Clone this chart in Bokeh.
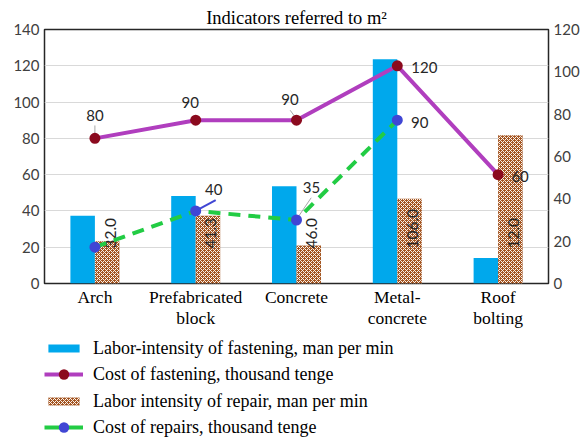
from bokeh.plotting import figure
from bokeh.layouts import column
from bokeh.models import (FactorRange, Range1d, LinearAxis, FixedTicker, Legend,
                          LegendItem, ColumnDataSource)
from bokeh.transform import dodge
from bokeh.core.properties import value
from bokeh.embed import file_html
from bokeh.resources import INLINE

# ---------------- data ----------------
categories = ["Arch", "Prefabricated\nblock", "Concrete", "Metal-\nconcrete", "Roof\nbolting"]
labor_fastening = [32.0, 41.3, 46.0, 106.0, 12.0]        # right axis
labor_fastening_labels = ["32.0", "41.3", "46.0", "106.0", "12.0"]
labor_repair = [20.0, 32.0, 18.0, 40.0, 70.0]             # right axis
cost_fastening = [80, 90, 90, 120, 60]                    # left axis
cost_fastening_labels = ["80", "90", "90", "120", "60"]
repair_categories = categories[:4]
cost_repairs = [20, 40, 35, 90]                           # left axis
cost_repairs_labels = ["", "40", "35", "90"]
left_ticks = [0, 20, 40, 60, 80, 100, 120, 140]
right_ticks = [0, 20, 40, 60, 80, 100, 120]
legend_labels = ["Labor-intensity of fastening, man per min",
                 "Cost of fastening, thousand tenge",
                 "Labor intensity of repair, man per min",
                 "Cost of repairs, thousand tenge"]

# ---------------- style / layout ----------------
BLUE = "#00A8EC"
BROWN = "#A35420"
HATCH = "#FBF3EC"
PURPLE = "#B03EBE"
DARKRED = "#8B0A1E"
GREEN = "#22CC44"
MBLUE = "#4046D4"
SANS = "Lato"
SERIF = "Liberation Serif"
BAR_W = 0.243
PX_X = 504 / 5.0          # px per category
PX_Y = 256 / 140.0        # px per left-axis unit
W = 587
H_MAIN = 330
H_LEG = 438 - H_MAIN

p = figure(width=W, height=H_MAIN, x_range=FactorRange(*categories),
           y_range=Range1d(0, 140), output_backend="svg", toolbar_location=None,
           min_border_left=44, min_border_right=39, min_border_top=29,
           min_border_bottom=H_MAIN - 285)
p.x_range.range_padding = 0
p.extra_y_ranges = {"right": Range1d(0, 120)}

p.title.text = "Indicators referred to m²"
p.title.align = "center"
p.title.text_font = SERIF
p.title.text_font_size = "18.5px"
p.title.text_font_style = "normal"
p.title.text_color = "black"
p.title.standoff = 4

p.outline_line_color = "#262626"
p.outline_line_width = 1.5
p.xgrid.grid_line_color = None
p.ygrid.grid_line_color = "#d9d9d9"
p.ygrid.grid_line_width = 1

p.yaxis.ticker = FixedTicker(ticks=left_ticks)
right_axis = LinearAxis(y_range_name="right", ticker=FixedTicker(ticks=right_ticks))
p.add_layout(right_axis, "right")

for ax in [p.yaxis[0], right_axis]:
    ax.major_tick_out = 0
    ax.major_tick_in = 0
    ax.minor_tick_out = 0
    ax.minor_tick_in = 0
    ax.axis_line_color = None
    ax.major_label_standoff = 5
    ax.major_label_text_font = SANS
    ax.major_label_text_font_size = "15px"
    ax.major_label_text_color = "#404040"

xa = p.xaxis[0]
xa.major_tick_out = 0
xa.major_tick_in = 0
xa.axis_line_color = None
xa.major_label_standoff = 3
xa.major_label_text_font = SERIF
xa.major_label_text_font_size = "17.5px"
xa.major_label_text_line_height = 1.05
xa.major_label_text_color = "black"

# ---------------- bars ----------------
bar_style = dict(fill_color=BLUE, line_color=None)
hatch_style = dict(fill_color=BROWN, line_color=None, hatch_pattern="diagonal_cross",
                   hatch_color=HATCH, hatch_scale=4, hatch_weight=1.0)

bsrc = ColumnDataSource(dict(cat=categories, lf=labor_fastening, lr=labor_repair,
                             lbl=labor_fastening_labels))
p.vbar(x=dodge("cat", -BAR_W / 2, range=p.x_range), top="lf", width=BAR_W,
       source=bsrc, y_range_name="right", **bar_style)
p.vbar(x=dodge("cat", BAR_W / 2, range=p.x_range), top="lr", width=BAR_W,
       source=bsrc, y_range_name="right", **hatch_style)

# vertical value labels of the blue bars (drawn inside brown bars)
p.text(x=dodge("cat", BAR_W / 2, range=p.x_range), y=16.5, text="lbl", source=bsrc,
       y_range_name="right", angle=1.5708, x_offset=3,
       text_align="left", text_baseline="middle",
       text_font=value(SANS), text_font_size="15.5px", text_color="#262626")

# ---------------- lines ----------------
fsrc = ColumnDataSource(dict(cat=categories, v=cost_fastening, lbl=cost_fastening_labels,
                             dx=[0, -5.5, -6.5, 27, 22], dy=[-23, -17.5, -21, 1.5, 2]))
rsrc = ColumnDataSource(dict(cat=repair_categories, v=cost_repairs, lbl=cost_repairs_labels,
                             dx=[0, 18, 15, 22.5], dy=[0, -21, -33, 2]))

# leader lines (offsets in px from the data point)
def seg(i, v, d0, d1):
    return (i + 0.5 + d0[0] / PX_X, v - d0[1] / PX_Y, i + 0.5 + d1[0] / PX_X, v - d1[1] / PX_Y)

gray_segs = [seg(0, cost_fastening[0], (0, -5), (0, -13)),
             seg(2, cost_fastening[2], (-2, -4), (-6.3, -10)),
             seg(2, cost_repairs[2], (2.3, -4), (14.7, -22.4))]
p.segment(x0=[s[0] for s in gray_segs], y0=[s[1] for s in gray_segs],
          x1=[s[2] for s in gray_segs], y1=[s[3] for s in gray_segs],
          line_color="#a6a6a6", line_width=1)
bs = seg(1, cost_repairs[1], (0, 0), (20, -11))
p.segment(x0=[bs[0]], y0=[bs[1]], x1=[bs[2]], y1=[bs[3]], line_color=MBLUE, line_width=2)

p.line(x="cat", y="v", source=fsrc, line_color=PURPLE, line_width=4)
p.line(x="cat", y="v", source=rsrc, line_color=GREEN, line_width=4, line_dash="12 8")
p.scatter(x="cat", y="v", source=fsrc, size=11, fill_color=DARKRED, line_color=None)
p.scatter(x="cat", y="v", source=rsrc, size=11, fill_color=MBLUE, line_color=None)

for src in (fsrc, rsrc):
    p.text(x="cat", y="v", text="lbl", source=src, x_offset="dx", y_offset="dy",
           text_align="center", text_baseline="middle",
           text_font=value(SANS), text_font_size="15px", text_color="#262626")

# ---------------- legend (separate strip below the chart) ----------------
q = figure(width=W, height=H_LEG, x_range=Range1d(0, 1), y_range=Range1d(0, 1),
           output_backend="svg", toolbar_location=None, min_border=0,
           outline_line_color=None, outline_line_alpha=0,
           background_fill_color="white", border_fill_color="white")
q.axis.visible = False
q.grid.visible = False

# legend key renderers: one point each, placed outside the visible range of this strip
OFF = [-50]
r_blue = q.vbar(x=OFF, top=OFF, bottom=OFF, width=1, **bar_style)
r_l1 = q.line(x=OFF, y=OFF, line_color=PURPLE, line_width=4)
r_m1 = q.scatter(x=OFF, y=OFF, fill_color=DARKRED, line_color=None)
r_brown = q.vbar(x=OFF, top=OFF, bottom=OFF, width=1, **hatch_style)
r_l2 = q.line(x=OFF, y=OFF, line_color=GREEN, line_width=4)
r_m2 = q.scatter(x=OFF, y=OFF, fill_color=MBLUE, line_color=None)

entries = [([r_blue], "bar"), ([r_l1, r_m1], "line"), ([r_brown], "bar"), ([r_l2, r_m2], "line")]
row_centers = [H_LEG - 18, H_LEG - 44, H_LEG - 71, H_LEG - 97]   # from bottom of strip
for (rends, kind), lab, yc in zip(entries, legend_labels, row_centers):
    gh = 10 if kind == "bar" else 26
    lg = Legend(items=[LegendItem(label=lab, renderers=rends)],
                location=(0, yc - 13), orientation="vertical",
                label_text_font=SERIF, label_text_font_size="18px",
                label_text_color="black", glyph_width=39, glyph_height=gh,
                label_height=26, spacing=0, padding=0, margin=0, label_standoff=10,
                border_line_color=None, background_fill_alpha=0)
    q.add_layout(lg)

layout = column(p, q, spacing=0)
open("out.html", "w").write(file_html(layout, INLINE))
